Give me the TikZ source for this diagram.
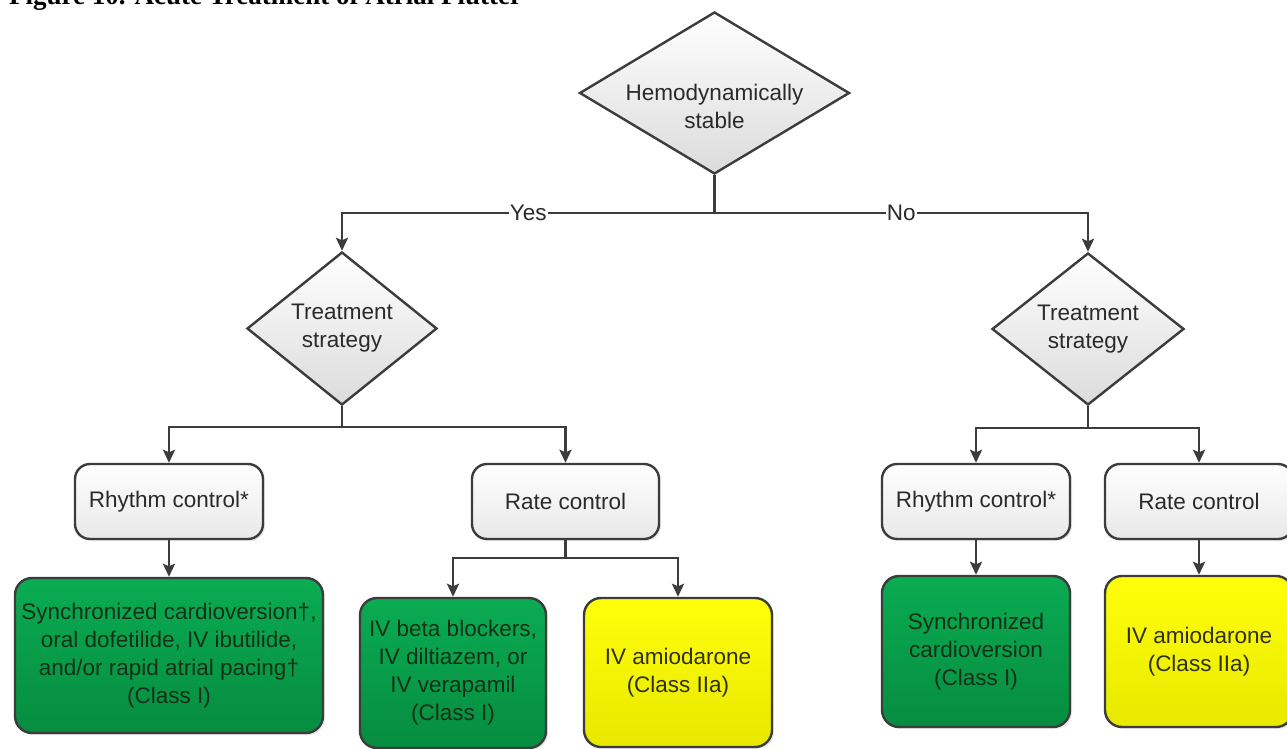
\documentclass[tikz,border=0pt]{standalone}
\usepackage{fontspec}
\setmainfont{Liberation Sans}
\newfontfamily\titleserif{Liberation Serif}
\usetikzlibrary{shapes.geometric,arrows.meta,shadows}
\definecolor{linec}{HTML}{3C3C3C}
\definecolor{txtc}{HTML}{2A2A2A}
\definecolor{gtop}{RGB}{10,172,82}
\definecolor{gbot}{RGB}{6,140,64}
\definecolor{gtxt}{RGB}{20,48,24}
\definecolor{ytop}{RGB}{255,255,10}
\definecolor{ybot}{RGB}{232,232,0}
\definecolor{ytxt}{RGB}{48,48,20}
\tikzset{
  basefont/.style={font=\fontsize{22.5}{28}\selectfont},
  dec/.style={diamond, draw=linec, line width=2.4pt, top color=white, bottom color=black!14,
    inner sep=0pt, align=center, basefont, text=txtc},
  wbox/.style={rectangle, rounded corners=15pt, draw=linec, line width=2.4pt,
    top color=white, bottom color=black!9, minimum width=188pt, minimum height=75pt,
    align=center, basefont, text=txtc,
    drop shadow={opacity=0.18, shadow xshift=2pt, shadow yshift=-2pt}},
  gbox/.style={rectangle, rounded corners=17pt, draw=linec, line width=2.4pt,
    top color=gtop, bottom color=gbot, align=center, basefont, text=gtxt, inner sep=0pt,
    drop shadow={opacity=0.18, shadow xshift=2pt, shadow yshift=-2pt}},
  ybox/.style={rectangle, rounded corners=17pt, draw=linec, line width=2.4pt,
    top color=ytop, bottom color=ybot, align=center, basefont, text=ytxt, inner sep=0pt,
    drop shadow={opacity=0.18, shadow xshift=2pt, shadow yshift=-2pt}},
  conn/.style={draw=linec, line width=2.6pt},
  arr/.style={conn, -{Stealth[length=13pt,width=12pt,inset=2.5pt]}},
  lbl/.style={fill=white, inner sep=1pt, basefont, text=txtc}
}
\begin{document}
\begin{tikzpicture}[x=1pt,y=-1pt]
\useasboundingbox (0,0) rectangle (1287,749);
\fill[white] (0,0) rectangle (1287,749);

\node[anchor=base west, font=\titleserif\bfseries\fontsize{27}{30}\selectfont, inner sep=0pt]
  (title) at (9,4.5) {Figure 10. Acute Treatment of Atrial Flutter};

% decisions
\node[dec, minimum width=270pt, minimum height=162pt,
  label={[basefont, text=txtc, align=center, yshift=-13pt]center:Hemodynamically\\stable}]
  (hs) at (714.5,93) {};
\node[dec, minimum width=190pt, minimum height=153pt] (tsL) at (342,328.5) {Treatment\\strategy};
\node[dec, minimum width=192pt, minimum height=152pt] (tsR) at (1088,329) {Treatment\\strategy};

% white boxes
\node[wbox] (rcL) at (169,501.5) {Rhythm control*};
\node[wbox, minimum width=187pt] (rtL) at (565.5,501.5) {Rate control};
\node[wbox] (rcR) at (976,501.5) {Rhythm control*};
\node[wbox] (rtR) at (1199,501.5) {Rate control};

% colored boxes
\node[gbox, minimum width=308pt, minimum height=155pt] (gL) at (169,655.5)
  {Synchronized cardioversion\textdagger,\\oral dofetilide, IV ibutilide,\\and/or rapid atrial pacing\textdagger\\(Class I)};
\node[gbox, minimum width=186pt, minimum height=150pt] (gM) at (453,673)
  {IV beta blockers,\\IV diltiazem, or\\IV verapamil\\(Class I)};
\node[ybox, minimum width=188pt, minimum height=149pt] (yM) at (678,672.5)
  {\raisebox{0pt}{IV amiodarone}\\(Class IIa)};
\node[gbox, minimum width=188pt, minimum height=151pt] (gR) at (976,651.5)
  {Synchronized\\cardioversion\\(Class I)};
\node[ybox, minimum width=188pt, minimum height=151pt] (yR) at (1199,651.5)
  {IV amiodarone\\(Class IIa)};

% junctions
\coordinate (j1) at (714.5,213);
\coordinate (j2) at (342,427);
\coordinate (j3) at (1088,428);
\coordinate (j4) at (565.5,558);

% connectors
\draw[conn] (hs.south) -- (j1);
\draw[arr] (j1) -| node[lbl, pos=0.25] {Yes} (tsL.north);
\draw[arr] (j1) -| node[lbl, pos=0.25] {No} (tsR.north);

\draw[conn] (tsL.south) -- (j2);
\draw[arr] (j2) -| (rcL.north);
\draw[arr] (j2) -| (rtL.north);

\draw[conn] (tsR.south) -- (j3);
\draw[arr] (j3) -| (rcR.north);
\draw[arr] (j3) -| (rtR.north);

\draw[arr] (rcL.south) -- (gL.north);
\draw[conn] (rtL.south) -- (j4);
\draw[arr] (j4) -| (gM.north);
\draw[arr] (j4) -| (yM.north);

\draw[arr] (rcR.south) -- (gR.north);
\draw[arr] (rtR.south) -- (yR.north);
\end{tikzpicture}
\end{document}
